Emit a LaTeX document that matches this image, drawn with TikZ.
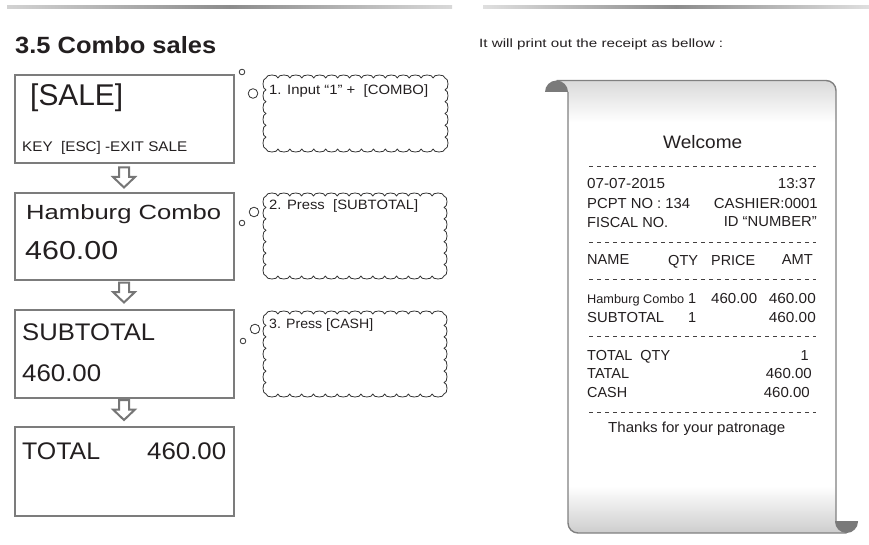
\documentclass[tikz,border=0pt]{standalone}
\usepackage{fontspec}
\setmainfont{Liberation Sans}
\usepackage{graphicx}
\definecolor{ink}{HTML}{231F20}
\definecolor{lcdgray}{HTML}{7C7C7C}
\definecolor{cloudgray}{HTML}{333333}
\definecolor{arrowgray}{HTML}{767676}
\definecolor{curlgray}{HTML}{7A7A7A}
\definecolor{paperline}{HTML}{808080}
\newcommand{\fw}[2]{\resizebox{#1pt}{\height}{#2}}
\newcommand{\thoughtcloud}[4]{%
  \pgfmathsetmacro{\cw}{#3-#1}\pgfmathsetmacro{\chh}{#4-#2}%
  \pgfmathtruncatemacro{\nx}{round(\cw/12)}\pgfmathtruncatemacro{\ny}{round(\chh/11)}%
  \pgfmathsetmacro{\ddx}{\cw/\nx}\pgfmathsetmacro{\ddy}{\chh/\ny}%
  \draw[cloudline] (#1,#2)
    foreach \i in {1,...,\nx}{ .. controls +(0,-4) and +(0,-4) .. ++(\ddx,0) }
    foreach \i in {1,...,\ny}{ .. controls +(4,0) and +(4,0) .. ++(0,\ddy) }
    foreach \i in {1,...,\nx}{ .. controls +(0,4) and +(0,4) .. ++(-\ddx,0) }
    foreach \i in {1,...,\ny}{ .. controls +(-4,0) and +(-4,0) .. ++(0,-\ddy) }
    -- cycle;%
}
\newcommand{\hollowarrow}[2]{% center x, top y
  \draw[harrow] (#1-5,#2) -- (#1+5,#2) -- (#1+5,#2+9.5) -- (#1+11,#2+9.5)
    -- (#1,#2+20) -- (#1-11,#2+9.5) -- (#1-5,#2+9.5) -- cycle;%
}
\begin{document}
\begin{tikzpicture}[x=1pt,y=-1pt,
  txt/.style={inner sep=0pt, text=ink},
  lcd/.style={draw=lcdgray, line width=2pt, fill=white, inner sep=0pt, anchor=north west},
  cloudline/.style={draw=cloudgray, line width=0.8pt, line join=round},
  bubble/.style={draw=cloudgray, line width=0.8pt, fill=white},
  harrow/.style={draw=arrowgray, line width=2pt, fill=white, line join=miter},
  dashrule/.style={draw=ink!85, line width=0.9pt, dash pattern=on 4pt off 4pt},
  rf/.style={font=\fontsize{14.5}{17}\selectfont},
  bw/.style={anchor=base west},
  be/.style={anchor=base east}]
\useasboundingbox (0,0) rectangle (869,545);
% header rules
\shade[left color=gray!35, right color=gray!30, middle color=gray!90] (7,5.5) rectangle (452,8.5);
\shade[left color=gray!25, right color=gray!25, middle color=gray!90] (483,5.5) rectangle (869,8.5);
% title and intro
\node[txt, bw, font=\fontsize{23.5}{28}\selectfont\bfseries] (title) at (15,54) {\fw{201}{3.5 Combo sales}};
\node[txt, bw, font=\fontsize{12}{14}\selectfont] (intro) at (479,48) {\fw{244}{It will print out the receipt as bellow :}};
% LCD boxes
\node[lcd, minimum width=219pt, minimum height=88pt] (lcd1) at (14,74) {};
\node[lcd, minimum width=219pt, minimum height=87pt] (lcd2) at (14,192) {};
\node[lcd, minimum width=219pt, minimum height=88pt] (lcd3) at (14,309) {};
\node[lcd, minimum width=219pt, minimum height=89pt] (lcd4) at (14,426) {};
\hollowarrow{124}{167.5}
\hollowarrow{124}{282.5}
\hollowarrow{124}{400}
% LCD texts
\node[txt, bw, font=\fontsize{30}{36}\selectfont] (sale) at (30,106) {\fw{93}{[SALE]}};
\node[txt, bw, font=\fontsize{14}{17}\selectfont] (esc) at (22,152) {\fw{165}{KEY\ \ [ESC] -EXIT SALE}};
\node[txt, bw, font=\fontsize{20.5}{24}\selectfont] (ham) at (26,220) {\fw{195}{Hamburg Combo}};
\node[txt, bw, font=\fontsize{26}{30}\selectfont] (amt1) at (25,259) {\fw{93}{460.00}};
\node[txt, bw, font=\fontsize{24}{28}\selectfont] (sub) at (22,340) {\fw{133}{SUBTOTAL}};
\node[txt, bw, font=\fontsize{24}{28}\selectfont] (amt2) at (22,381) {\fw{79}{460.00}};
\node[txt, bw, font=\fontsize{24}{28}\selectfont] (tot) at (22,459) {\fw{78}{TOTAL}};
\node[txt, bw, font=\fontsize{24}{28}\selectfont] (amt3) at (147,459) {\fw{79}{460.00}};
% thought clouds
\thoughtcloud{266}{78}{445}{149}
\thoughtcloud{266}{196}{444}{276}
\thoughtcloud{266}{314}{444}{394}
\draw[bubble] (242,72) circle[radius=2.8pt];
\draw[bubble] (253,93.5) circle[radius=4.8pt];
\draw[bubble] (242,223) circle[radius=2.8pt];
\draw[bubble] (254,212) circle[radius=4.8pt];
\draw[bubble] (243,341) circle[radius=2.8pt];
\draw[bubble] (255,329) circle[radius=4.8pt];
\node[txt, bw, font=\fontsize{13.5}{16}\selectfont] (c1) at (269,95) {\fw{159}{1. Input “1” +\ \ [COMBO]}};
\node[txt, bw, font=\fontsize{13.5}{16}\selectfont] (c2) at (269,210) {\fw{149}{2. Press\ \ [SUBTOTAL]}};
\node[txt, bw, font=\fontsize{13.5}{16}\selectfont] (c3) at (269,328) {\fw{104}{3. Press [CASH]}};
% receipt paper
\fill[white] (556.5,80.5) -- (826,80.5) arc[start angle=90,end angle=0,radius=10pt]
  -- (836,521.5) -- (846.5,521.5) -- (846.5,533) -- (578,533)
  arc[start angle=270,end angle=180,radius=10pt] -- (568,92) -- (556.5,92) -- cycle;
\begin{scope}
  \clip (556.5,80.5) -- (826,80.5) arc[start angle=90,end angle=0,radius=10pt]
  -- (836,521.5) -- (846.5,521.5) -- (846.5,533) -- (578,533)
  arc[start angle=270,end angle=180,radius=10pt] -- (568,92) -- (556.5,92) -- cycle;
  \shade[top color=gray!30, bottom color=white] (550,80) rectangle (850,122);
  \shade[top color=white, bottom color=gray!40] (550,486) rectangle (850,534);
\end{scope}
\draw[paperline, line width=1.4pt] (556.5,80.5) -- (826,80.5) arc[start angle=90,end angle=0,radius=10pt] -- (836,521.5);
\draw[paperline, line width=1.4pt] (568,92) -- (568,523) arc[start angle=180,end angle=270,radius=10pt] -- (846.5,533);
\begin{scope}
  \clip (540,70) rectangle (575,92);
  \fill[curlgray] (556.5,92) circle[radius=11.5pt];
\end{scope}
\begin{scope}
  \clip (834,521.5) rectangle (862,540);
  \fill[curlgray] (846.5,521.5) circle[radius=11.5pt];
\end{scope}
% receipt text
\node[txt, bw, font=\fontsize{18}{21}\selectfont] (wel) at (663,149) {\fw{79}{Welcome}};
\draw[dashrule] (589,166) -- (816,166);
\node[txt, bw, rf] (date) at (587,189) {\fw{78}{07-07-2015}};
\node[txt, be, rf] (time) at (816,189) {\fw{38}{13:37}};
\node[txt, bw, rf] (pcpt) at (587,208) {\fw{103}{PCPT NO : 134}};
\node[txt, be, rf] (cash) at (818,208) {\fw{104}{CASHIER:0001}};
\node[txt, bw, rf] (fisc) at (587,227) {\fw{81}{FISCAL NO.}};
\node[txt, be, rf] (idn) at (817,227) {\fw{93}{ID “NUMBER”}};
\draw[dashrule] (589,242) -- (816,242);
\node[txt, bw, rf] (hname) at (587,265) {\fw{42}{NAME}};
\node[txt, bw, rf] (hqty) at (668,265) {\fw{30}{QTY}};
\node[txt, bw, rf] (hprice) at (711,265) {\fw{44}{PRICE}};
\node[txt, be, rf] (hamt) at (813,265) {\fw{31}{AMT}};
\draw[dashrule] (589,279) -- (816,279);
\node[txt, bw, font=\fontsize{12.5}{15}\selectfont] (iname) at (587,303) {\fw{97}{Hamburg Combo}};
\node[txt, bw, rf] (iqty) at (688,303) {1};
\node[txt, bw, rf] (iprice) at (711,303) {\fw{46}{460.00}};
\node[txt, be, rf] (iamt) at (816,303) {\fw{47}{460.00}};
\node[txt, bw, rf] (sname) at (587,322) {\fw{77}{SUBTOTAL}};
\node[txt, bw, rf] (sqty) at (688,322) {1};
\node[txt, be, rf] (samt) at (816,322) {\fw{47}{460.00}};
\draw[dashrule] (589,336) -- (816,336);
\node[txt, bw, rf] (tq) at (587,360) {\fw{83}{TOTAL\ \ QTY}};
\node[txt, be, rf] (tqv) at (809,360) {1};
\node[txt, bw, rf] (tat) at (587,378) {\fw{42}{TATAL}};
\node[txt, be, rf] (tatv) at (812,378) {\fw{46}{460.00}};
\node[txt, bw, rf] (csh) at (587,397) {\fw{40}{CASH}};
\node[txt, be, rf] (cshv) at (810,397) {\fw{46}{460.00}};
\draw[dashrule] (589,412) -- (816,412);
\node[txt, bw, rf] (thx) at (608,432) {\fw{177}{Thanks for your patronage}};
\end{tikzpicture}
\end{document}
